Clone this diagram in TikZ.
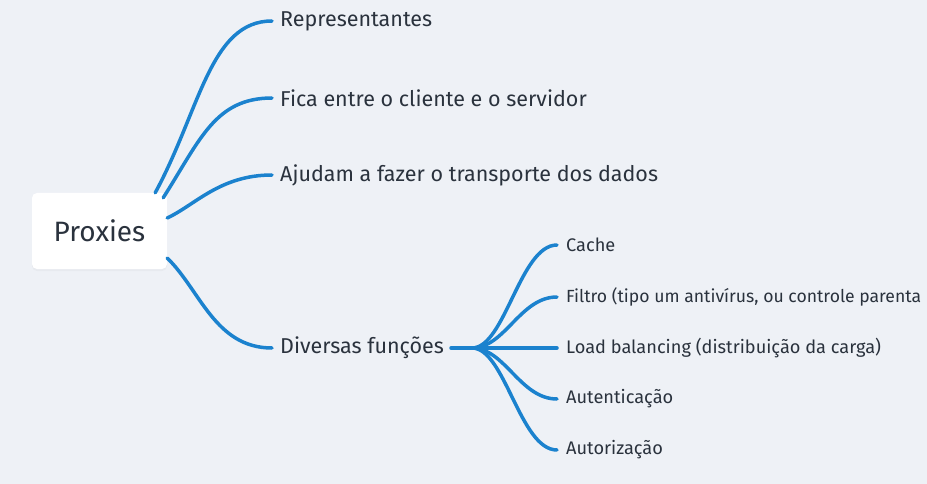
\documentclass[tikz,border=0pt]{standalone}
\usepackage{fontspec}
\setmainfont{Fira Sans}
\usetikzlibrary{shadows}
\definecolor{bg}{HTML}{EEF1F6}
\definecolor{branch}{HTML}{1B82CE}
\definecolor{ink}{HTML}{2A323D}
\tikzset{
  rootbox/.style={fill=white, rounded corners=5pt, minimum width=135pt, minimum height=76pt,
    inner sep=0pt, font=\fontsize{28}{32}\selectfont, text=ink,
    drop shadow={opacity=0.06, shadow xshift=0pt, shadow yshift=-2pt}},
  mainlabel/.style={anchor=west, inner xsep=8pt, inner ysep=0pt, font=\fontsize{21.5}{25}\selectfont, text=ink},
  sublabel/.style={anchor=west, inner xsep=9pt, inner ysep=0pt, font=\fontsize{18.2}{22}\selectfont, text=ink},
  conn/.style={draw=branch, line width=3.5pt, line cap=round}
}
\begin{document}
\begin{tikzpicture}[x=1pt, y=-1pt]
\fill[bg] (0,0) rectangle (927,484);
\useasboundingbox (0,0) rectangle (927,484);

\node[rootbox] (proxies) at (99.5,231) {Proxies};

\node[mainlabel] (rep) at (272,21) {Representantes};
\node[mainlabel] (fica) at (272,98) {Fica entre o cliente e o servidor};
\node[mainlabel] (ajud) at (272,175) {Ajudam a fazer o transporte dos dados};
\node[mainlabel] (div) at (272,348) {Diversas funções};

\node[sublabel] (cache) at (557,245) {Cache};
\node[sublabel, font=\fontsize{17.6}{21}\selectfont] (filtro) at (557,297) {Filtro (tipo um antivírus, ou controle parenta};
\node[sublabel] (load) at (557,348) {Load balancing (distribuição da carga)};
\node[sublabel] (auten) at (557,399) {Autenticação};
\node[sublabel] (autor) at (557,450) {Autorização};

\coordinate (j) at (472,348);

\draw[conn] ([xshift=-12pt]proxies.north east) .. controls +(45,-83) and +(-62,0) .. (rep.west);
\draw[conn] ([xshift=-4pt,yshift=-5pt]proxies.north east) .. controls +(37,-58) and +(-57,0) .. (fica.west);
\draw[conn] ([yshift=13pt]proxies.east) .. controls +(28,-13) and +(-52,0) .. (ajud.west);
\draw[conn] ([yshift=-27pt]proxies.east) .. controls +(33,32) and +(-57,0) .. (div.west);

\draw[conn] ([xshift=-1pt]div.east) -- (j);
\draw[conn] (j) .. controls +(33,0) and +(-37,0) .. (cache.west);
\draw[conn] (j) .. controls +(33,0) and +(-37,0) .. (filtro.west);
\draw[conn] (j) -- (load.west);
\draw[conn] (j) .. controls +(33,0) and +(-37,0) .. (auten.west);
\draw[conn] (j) .. controls +(33,0) and +(-37,0) .. (autor.west);
\end{tikzpicture}
\end{document}
